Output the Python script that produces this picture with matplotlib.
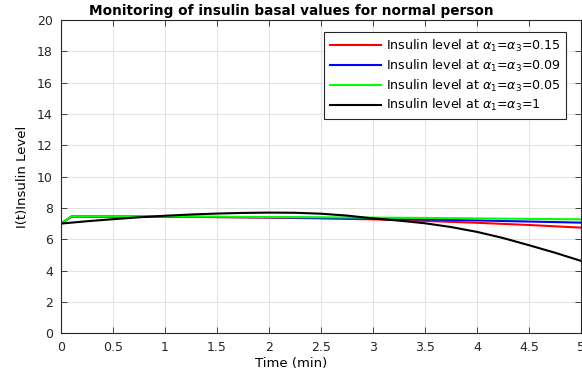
import numpy as np
import matplotlib
matplotlib.use('Agg')
import matplotlib.pyplot as plt

plt.rcParams['font.family'] = ['DejaVu Sans']
plt.rcParams['mathtext.fontset'] = 'dejavusans'

# values
t_low = [0, 0.1, 0.5, 1.0, 1.5, 2.0, 2.5, 3.0, 3.5, 4.0, 4.5, 5.0]
red = [7.0, 7.45, 7.44, 7.43, 7.41, 7.38, 7.33, 7.27, 7.17, 7.05, 6.91, 6.74]
blue = [7.0, 7.45, 7.45, 7.44, 7.42, 7.40, 7.36, 7.32, 7.26, 7.20, 7.13, 7.06]
green = [7.0, 7.46, 7.46, 7.45, 7.44, 7.42, 7.40, 7.38, 7.36, 7.33, 7.30, 7.27]

t_black = [0, 0.25, 0.5, 0.75, 1.0, 1.25, 1.5, 1.75, 2.0, 2.25, 2.5, 2.75,
           3.0, 3.25, 3.5, 3.75, 4.0, 4.25, 4.5, 4.75, 5.0]
black = [7.0, 7.15, 7.28, 7.40, 7.50, 7.58, 7.64, 7.68, 7.70, 7.69, 7.63, 7.51,
         7.33, 7.19, 7.02, 6.78, 6.47, 6.08, 5.62, 5.14, 4.62]

labels = [r'Insulin level at $\alpha_1$=$\alpha_3$=0.15',
          r'Insulin level at $\alpha_1$=$\alpha_3$=0.09',
          r'Insulin level at $\alpha_1$=$\alpha_3$=0.05',
          r'Insulin level at $\alpha_1$=$\alpha_3$=1']

fig = plt.figure(figsize=(5.82, 3.79), dpi=100)
ax = fig.add_axes([0.105, 0.121, 0.893, 0.826])

ax.plot(t_low, red, color='#ff0000', lw=1.5, label=labels[0])
ax.plot(t_low, blue, color='#0000ff', lw=1.5, label=labels[1])
ax.plot(t_low, green, color='#00ff00', lw=1.5, label=labels[2])
ax.plot(t_black, black, color='black', lw=1.5, label=labels[3])

ax.set_xlim(0, 5)
ax.set_ylim(0, 20)
ax.set_xticks(np.arange(0, 5.01, 0.5))
ax.set_xticklabels(['0', '0.5', '1', '1.5', '2', '2.5', '3', '3.5', '4', '4.5', '5'])
ax.set_yticks(np.arange(0, 21, 2))
ax.tick_params(direction='in', top=True, right=True, labelsize=9, length=4,
               width=0.6, colors='#262626')
ax.tick_params(axis='x', pad=6)
ax.tick_params(axis='y', pad=6)
ax.grid(True, color='#e3e3e3', lw=0.8)
ax.set_axisbelow(True)
for s in ax.spines.values():
    s.set_linewidth(0.8)
    s.set_color('#262626')

# title and xlabel sit centred on the figure, not on the axes
ax.set_xlabel('Time (min)', fontsize=9.5, labelpad=0)
ax.xaxis.set_label_coords(0.442, -0.075)
ax.set_ylabel('I(t)Insulin Level', fontsize=9.5, labelpad=6)
ax.set_title('Monitoring of insulin basal values for normal person',
             fontsize=9.8, fontweight='bold', pad=4, x=0.442)

leg = ax.legend(loc='upper right', bbox_to_anchor=(0.972, 0.962), borderaxespad=0,
                fontsize=9.1, handlelength=4.0, fancybox=False,
                framealpha=1, edgecolor='#262626',
                labelspacing=0.3, handletextpad=0.4, borderpad=0.45)
leg.get_frame().set_linewidth(0.8)

fig.savefig('out.png', dpi=100)
